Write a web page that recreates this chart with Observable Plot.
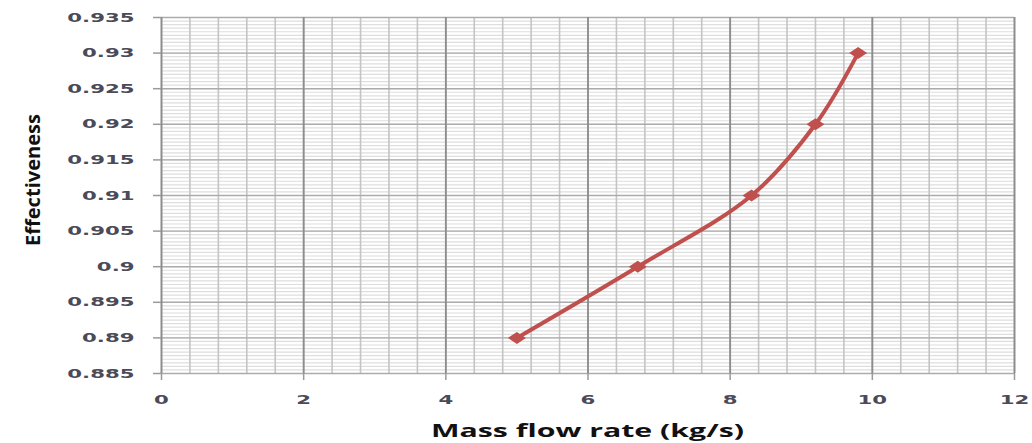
<!DOCTYPE html>
<html><head><meta charset="utf-8">
<script src="https://cdn.jsdelivr.net/npm/d3@7"></script>
<script src="https://cdn.jsdelivr.net/npm/@observablehq/plot@0.6"></script>
<style>
body{margin:0;background:#fff}
svg{display:block}
g[aria-label="x-axis tick"] path, g[aria-label="y-axis tick"] path{stroke:#9a9a9a;stroke-width:1.5px}
</style>
</head><body><div id="chart"></div>
<script>
const massFlow = [5, 6.7, 8.3, 9.2, 9.8];
const effectiveness = [0.89, 0.90, 0.91, 0.92, 0.93];
const xTicks = [0, 2, 4, 6, 8, 10, 12];
const yTicks = [0.885, 0.89, 0.895, 0.9, 0.905, 0.91, 0.915, 0.92, 0.925, 0.93, 0.935];
const xLabel = "Mass flow rate (kg/s)";
const yLabel = "Effectiveness";

const data = massFlow.map((x, i) => ({x, y: effectiveness[i]}));
const xMinor = d3.range(0, 31).map(i => i * 0.4);
const yMinor = d3.range(0, 101).map(i => 0.885 + i * 0.0005);

const wideDiamond = {
  draw(ctx, size) {
    ctx.moveTo(-9, 0); ctx.lineTo(0, -6); ctx.lineTo(9, 0); ctx.lineTo(0, 6); ctx.closePath();
  }
};

const chart = Plot.plot({
  width: 1032, height: 443,
  marginTop: 17, marginBottom: 70, marginLeft: 161, marginRight: 18,
  style: {fontFamily: "DejaVu Sans", fontSize: "12.5px", fontWeight: "bold", color: "#4a4a58", background: "#fff"},
  x: {domain: [0, 12], label: null},
  y: {domain: [0.885, 0.935], label: null},
  marks: [
    Plot.ruleY(yMinor, {stroke: "#dedede", strokeWidth: 1.2}),
    Plot.ruleX(xMinor, {stroke: "#c4c4c4", strokeWidth: 1.6}),
    Plot.ruleY(yTicks, {stroke: "#ababab", strokeWidth: 1.4}),
    Plot.ruleX(xTicks, {stroke: "#8c8c8c", strokeWidth: 1.8}),
    Plot.axisX({ticks: xTicks, tickSize: 7, tickPadding: 15, tickFormat: d => String(d)}),
    Plot.axisY({ticks: yTicks, tickSize: 8, tickPadding: 19, tickFormat: d => String(+d.toFixed(3))}),
    Plot.line(data, {x: "x", y: "y", stroke: "#c0504d", strokeWidth: 4, curve: "catmull-rom"}),
    Plot.dot(data, {x: "x", y: "y", symbol: wideDiamond, fill: "#c0504d", stroke: "none"})
  ]
});
document.getElementById("chart").appendChild(chart);

const svg = d3.select(chart);
// stretch tick labels horizontally as in the reference
svg.selectAll('g[aria-label="x-axis tick label"] text, g[aria-label="y-axis tick label"] text').each(function() {
  const len = this.getComputedTextLength();
  this.setAttribute("textLength", len * 1.7);
  this.setAttribute("lengthAdjust", "spacingAndGlyphs");
});

const xs = chart.scale("x");
const cx = (xs.apply(0) + xs.apply(12)) / 2;
svg.append("text")
  .attr("x", cx).attr("y", 437)
  .attr("text-anchor", "middle")
  .attr("font-family", "Open Sans").attr("font-weight", "bold").attr("font-size", 18)
  .attr("fill", "#111")
  .attr("textLength", 313).attr("lengthAdjust", "spacingAndGlyphs")
  .text(xLabel);

svg.append("text")
  .attr("transform", "translate(40,180) rotate(-90)")
  .attr("text-anchor", "middle")
  .attr("font-family", "Open Sans").attr("font-weight", "bold").attr("font-size", 20)
  .attr("fill", "#111")
  .attr("textLength", 132).attr("lengthAdjust", "spacingAndGlyphs")
  .text(yLabel);
</script>
</body></html>
